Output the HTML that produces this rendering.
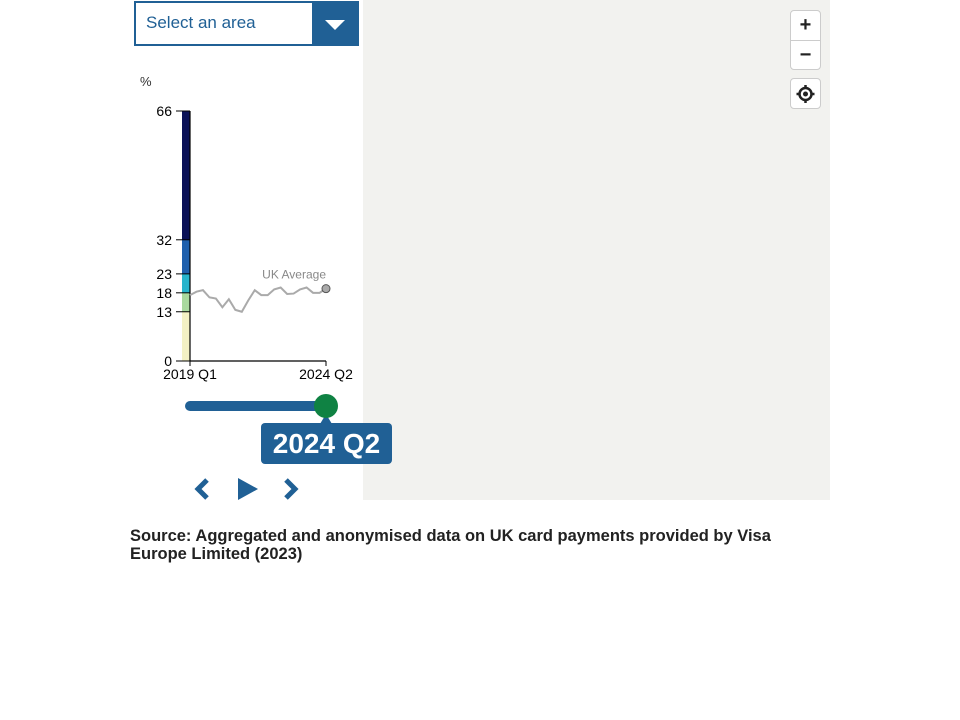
<!DOCTYPE html>
<html><head><meta charset="utf-8"><style>
body{margin:0;width:960px;height:720px;background:#fff;font-family:"Liberation Sans",sans-serif;position:relative;overflow:hidden}
.abs{position:absolute}
</style></head><body>
<div class="abs" style="left:134px;top:1px;width:221px;height:41px;border:2px solid #206095;background:#fff">
  <span style="position:absolute;left:10px;top:10px;font-size:17px;color:#206095">Select an area</span>
  <div style="position:absolute;right:0;top:0;width:45px;height:41px;background:#206095">
    <div style="position:absolute;left:13px;top:17px;width:0;height:0;border-left:10px solid transparent;border-right:10px solid transparent;border-top:10px solid #fff"></div>
  </div>
</div>
<div class="abs" style="left:363px;top:0;width:467px;height:500px;background:#f2f2ef"></div>
<div class="abs" style="left:790px;top:10px;width:29px;height:58px;border:1px solid #ccc;border-radius:4px;background:#fff">
  <div style="height:29px;border-bottom:1px solid #ccc;text-align:center;font:bold 20px/29px 'Liberation Sans',sans-serif;color:#222">+</div>
  <div style="height:28px;text-align:center;font:bold 20px/28px 'Liberation Sans',sans-serif;color:#222">−</div>
</div>
<div class="abs" style="left:790px;top:78px;width:29px;height:29px;border:1px solid #ccc;border-radius:4px;background:#fff">
  <svg width="29" height="29"><circle cx="14.5" cy="15" r="6" fill="none" stroke="#222" stroke-width="2.5"/><circle cx="14.5" cy="15" r="2.5" fill="#222"/><path d="M14.5 6v3M14.5 21v3M5.5 15h3M20.5 15h3" stroke="#222" stroke-width="2.5"/></svg>
</div>
<svg class="abs" style="left:0;top:0" width="960" height="520" id="chart"></svg>
<div class="abs" style="left:261px;top:423px;width:131px;height:41px;background:#206095;border-radius:4px;color:#fff;font:bold 28px/41px 'Liberation Sans',sans-serif;text-align:center">2024 Q2</div>
<div class="abs" style="left:130px;top:527px;width:680px;font:bold 16.5px/18px 'Liberation Sans',sans-serif;color:#222">Source: Aggregated and anonymised data on UK card payments provided by Visa Europe Limited (2023)</div>
<script>
const breaks=[0,13,18,23,32,66];
const bandColors=["#f3f1c4","#a9d99e","#27b4cc","#1f60ad","#0a1157"];
const values=[17.4,18.3,18.7,16.8,16.5,14.2,16.3,13.5,13.0,16.0,18.7,17.4,17.4,18.9,19.4,17.7,17.8,18.9,19.4,18.0,18.0,19.1];
const xLabels=["2019 Q1","2024 Q2"];
const NS="http://www.w3.org/2000/svg";
const svg=document.getElementById('chart');
const x0=190,x1=326,y0=361,y1=111,ymax=66;
const y=v=>y0-(v/ymax)*(y0-y1);
const x=i=>x0+i*(x1-x0)/(values.length-1);
function mk(t,a,p){const e=document.createElementNS(NS,t);for(const k in a)e.setAttribute(k,a[k]);(p||svg).appendChild(e);return e;}
let u=mk('text',{x:140,y:86,'font-size':13,fill:'#333','font-family':'Liberation Sans'});u.textContent='%';


for(let i=0;i<bandColors.length;i++){
  const r=mk('rect',{x:182,y:y(breaks[i+1]),width:8,height:y(breaks[i])-y(breaks[i+1]),fill:bandColors[i]});
  
  
}
breaks.forEach(b=>{
  mk('line',{x1:176,x2:190,y1:y(b),y2:y(b),stroke:'#000','stroke-width':1});
  const t=mk('text',{x:172,y:y(b)+5,'text-anchor':'end','font-size':14,fill:'#000','font-family':'Liberation Sans'});t.textContent=b;
  
  
});
mk('line',{x1:190,x2:190,y1:y1,y2:y0,stroke:'#000','stroke-width':1.2});
mk('line',{x1:190,x2:x1,y1:y0,y2:y0,stroke:'#000','stroke-width':1.2});
[0,values.length-1].forEach((i,k)=>{
  mk('line',{x1:x(i),x2:x(i),y1:y0,y2:y0+5,stroke:'#000'});
  const t=mk('text',{x:x(i),y:379,'text-anchor':'middle','font-size':14,fill:'#000','font-family':'Liberation Sans'});t.textContent=xLabels[k];
  
  
});
const pl=mk('polyline',{points:values.map((v,i)=>x(i)+','+y(v)).join(' '),fill:'none',stroke:'#aaa','stroke-width':2});


const last=values.length-1;
const dot=mk('circle',{cx:x(last),cy:y(values[last]),r:4,fill:'#aaa',stroke:'#555','stroke-width':1});


const lab=mk('text',{x:x(last),y:y(values[last])-10,'text-anchor':'end','font-size':12,fill:'#888','font-family':'Liberation Sans'});lab.textContent='UK Average';


const tr=mk('line',{x1:190,x2:326,y1:406,y2:406,stroke:'#206095','stroke-width':10,'stroke-linecap':'round'});


mk('path',{d:'M320 424 L326 414 L332 424 Z',fill:'#206095'});
const h=mk('circle',{cx:326,cy:406,r:12,fill:'#0f8243'});


const pv=mk('path',{d:'M207 480 L198 489 L207 498',fill:'none',stroke:'#206095','stroke-width':5});


const pb=mk('path',{d:'M238 478 L258 489 L238 500 Z',fill:'#206095'});


const nx=mk('path',{d:'M286 480 L295 489 L286 498',fill:'none',stroke:'#206095','stroke-width':5});


</script>
</body></html>
